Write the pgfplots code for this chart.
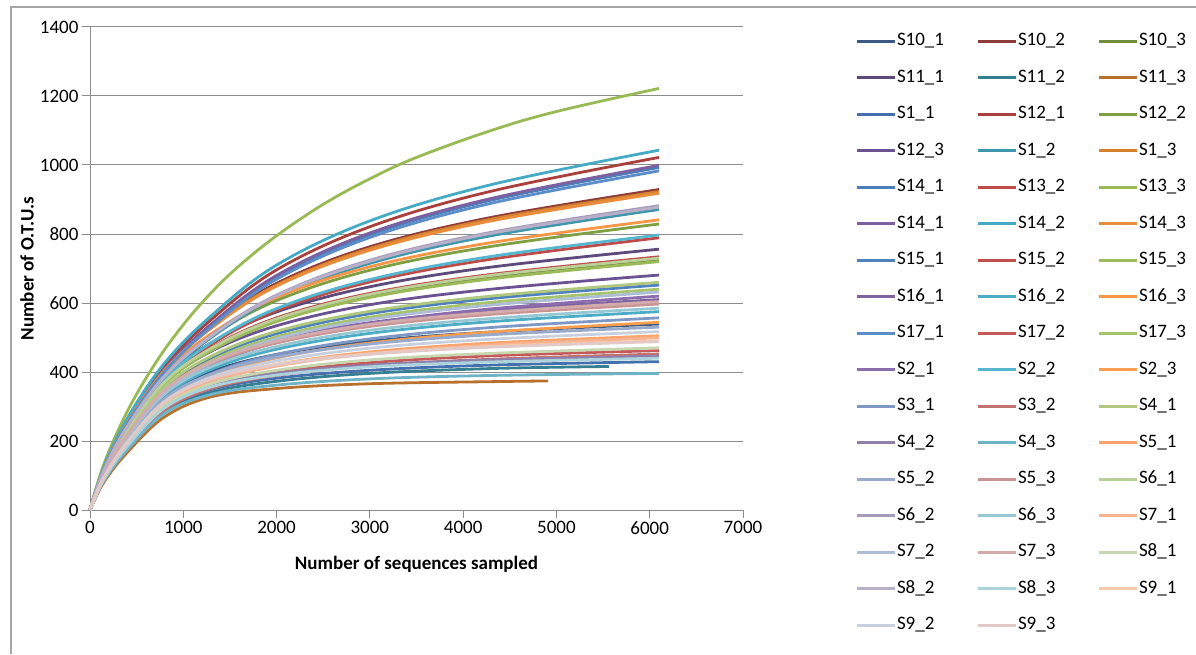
\documentclass[border=0pt]{standalone}
\usepackage{fontspec}
\setmainfont{Carlito}
\usepackage{pgfplots}
\pgfplotsset{compat=1.18}
\definecolor{c1}{HTML}{3C5A83}\definecolor{c2}{HTML}{8E3B3A}\definecolor{c3}{HTML}{728C3E}
\definecolor{c4}{HTML}{5D4A7A}\definecolor{c5}{HTML}{357F91}\definecolor{c6}{HTML}{B8702F}
\definecolor{c7}{HTML}{4570AE}\definecolor{c8}{HTML}{A9403D}\definecolor{c9}{HTML}{7EA042}
\definecolor{c10}{HTML}{6B5293}\definecolor{c11}{HTML}{3E97AC}\definecolor{c12}{HTML}{D4822E}
\definecolor{c13}{HTML}{4A7EBB}\definecolor{c14}{HTML}{BE4B48}\definecolor{c15}{HTML}{98B954}
\definecolor{c16}{HTML}{7D60A0}\definecolor{c17}{HTML}{46AAC5}\definecolor{c18}{HTML}{E98C3C}
\definecolor{c19}{HTML}{4F81BD}\definecolor{c20}{HTML}{C0504D}\definecolor{c21}{HTML}{9BBB59}
\definecolor{c22}{HTML}{8064A2}\definecolor{c23}{HTML}{4BACC6}\definecolor{c24}{HTML}{F79646}
\definecolor{c25}{HTML}{5B8DC9}\definecolor{c26}{HTML}{C4595A}\definecolor{c27}{HTML}{A6C46A}
\definecolor{c28}{HTML}{8B6DAE}\definecolor{c29}{HTML}{56B6CF}\definecolor{c30}{HTML}{F99D4E}
\definecolor{c31}{HTML}{7E98C6}\definecolor{c32}{HTML}{C27370}\definecolor{c33}{HTML}{AFC77F}
\definecolor{c34}{HTML}{8E80A8}\definecolor{c35}{HTML}{6FB3C7}\definecolor{c36}{HTML}{F9A46D}
\definecolor{c37}{HTML}{98A9CB}\definecolor{c38}{HTML}{C99494}\definecolor{c39}{HTML}{BBCF98}
\definecolor{c40}{HTML}{A79BBA}\definecolor{c41}{HTML}{98C7D4}\definecolor{c42}{HTML}{F8B490}
\definecolor{c43}{HTML}{AEBCD6}\definecolor{c44}{HTML}{D3ABAB}\definecolor{c45}{HTML}{C6D6AE}
\definecolor{c46}{HTML}{B8AFC8}\definecolor{c47}{HTML}{ACD2DC}\definecolor{c48}{HTML}{F9C8AA}
\definecolor{c49}{HTML}{C8D0E0}\definecolor{c50}{HTML}{E2C9C8}
\newcommand{\LE}[1]{\addlegendentry{\makebox[78pt][l]{#1}}}
\pgfplotsset{rc/.style={#1, line width=2.8pt, smooth, tension=0.6, line join=round}}
\begin{document}
\begin{tikzpicture}
\path[use as bounding box] (0pt,0pt) rectangle (1196pt,654pt);
\draw[color=black!35, line width=1.5pt] (11pt,0pt) -- (11pt,647pt) -- (1196pt,647pt);
\begin{axis}[
  at={(90pt,144pt)}, anchor=south west,
  scale only axis, width=653pt, height=483pt,
  xmin=0, xmax=7000, ymin=0, ymax=1400,
  xtick={0,1000,...,7000}, ytick={0,200,...,1400},
  scaled ticks=false,
  axis x line*=bottom, axis y line*=left,
  axis line style={color=black!45, line width=1pt},
  tick style={color=black!45, line width=1pt},
  tick align=outside, major tick length=8pt,
  ymajorgrids, major grid style={color=black!45, line width=1pt},
  /pgf/number format/assume math mode=true,
  /pgf/number format/1000 sep={},
  tick label style={font=\fontsize{19}{22}\selectfont, black},
  xlabel={Number of sequences sampled}, ylabel={Number of O.T.U.s},
  label style={font=\fontsize{19}{22}\selectfont\bfseries},
  xlabel style={at={(axis description cs:0.5,-0.123)}, anchor=base},
  ylabel style={at={(axis description cs:-0.0965,0.5)}, anchor=center},
  legend style={at={(axis description cs:1.17152,0.98861)}, anchor=north west, draw=none, fill=none,
    inner sep=0pt, outer sep=0pt, column sep=0pt, row sep=19.5pt,
    font=\fontsize{19}{22}\selectfont,
    nodes={inner xsep=1pt, inner ysep=0pt, text height=13pt, text depth=4pt}},
  legend columns=3, legend cell align=left,
  legend image code/.code={\draw[#1, line width=3pt] (0pt,0pt) -- (38pt,0pt);},
  clip=false,
]
\addplot[rc=c1] coordinates {(0,0)(150,99)(400,205)(800,327)(1300,401)(2000,451)(3000,489)(4300,516)(6100,539)};\LE{S10\_1}
\addplot[rc=c2] coordinates {(0,0)(150,122)(400,256)(800,410)(1300,533)(2000,657)(3000,763)(4300,848)(6100,929)};\LE{S10\_2}
\addplot[rc=c3] coordinates {(0,0)(150,111)(400,231)(800,369)(1300,467)(2000,552)(3000,622)(4300,677)(6100,727)};\LE{S10\_3}
\addplot[rc=c4] coordinates {(0,0)(150,115)(400,240)(800,384)(1300,485)(2000,574)(3000,647)(4300,704)(6100,756)};\LE{S11\_1}
\addplot[rc=c5] coordinates {(0,0)(150,86)(400,177)(800,283)(1300,341)(2000,373)(3000,396)(4300,410)(5563,416)};\LE{S11\_2}
\addplot[rc=c6] coordinates {(0,0)(150,81)(400,167)(800,270)(1300,328)(2000,352)(3000,366)(4300,372)(4910,374)};\LE{S11\_3}
\addplot[rc=c7] coordinates {(0,0)(150,88)(400,181)(800,290)(1300,349)(2000,382)(3000,405)(4300,420)(6100,430)};\LE{S1\_1}
\addplot[rc=c8] coordinates {(0,0)(150,123)(400,260)(800,417)(1300,552)(2000,696)(3000,821)(4300,924)(6100,1022)};\LE{S12\_1}
\addplot[rc=c9] coordinates {(0,0)(150,117)(400,246)(800,393)(1300,504)(2000,607)(3000,695)(4300,764)(6100,829)};\LE{S12\_2}
\addplot[rc=c10] coordinates {(0,0)(150,111)(400,230)(800,368)(1300,460)(2000,534)(3000,595)(4300,640)(6100,681)};\LE{S12\_3}
\addplot[rc=c11] coordinates {(0,0)(150,114)(400,240)(800,384)(1300,500)(2000,616)(3000,715)(4300,795)(6100,871)};\LE{S1\_2}
\addplot[rc=c12] coordinates {(0,0)(150,121)(400,254)(800,407)(1300,530)(2000,652)(3000,758)(4300,843)(6100,923)};\LE{S1\_3}
\addplot[rc=c13] coordinates {(0,0)(150,120)(400,253)(800,405)(1300,536)(2000,676)(3000,798)(4300,898)(6100,993)};\LE{S14\_1}
\addplot[rc=c14] coordinates {(0,0)(150,112)(400,234)(800,374)(1300,480)(2000,578)(3000,661)(4300,727)(6100,789)};\LE{S13\_2}
\addplot[rc=c15] coordinates {(0,0)(150,134)(400,286)(700,425)(1000,537)(1300,630)(1600,708)(2000,795)(2500,886)(3000,960)(3500,1022)(4300,1100)(5000,1155)(6100,1222)};\LE{S13\_3}
\addplot[rc=c16] coordinates {(0,0)(150,120)(400,255)(800,408)(1300,539)(2000,680)(3000,803)(4300,903)(6100,999)};\LE{S14\_1}
\addplot[rc=c17] coordinates {(0,0)(150,126)(400,266)(800,426)(1300,563)(2000,710)(3000,838)(4300,943)(6100,1043)};\LE{S14\_2}
\addplot[rc=c18] coordinates {(0,0)(150,120)(400,253)(800,405)(1300,527)(2000,649)(3000,753)(4300,838)(6100,918)};\LE{S14\_3}
\addplot[rc=c19] coordinates {(0,0)(150,106)(400,220)(800,353)(1300,441)(2000,511)(3000,569)(4300,613)(6100,652)};\LE{S15\_1}
\addplot[rc=c20] coordinates {(0,0)(150,112)(400,233)(800,373)(1300,471)(2000,557)(3000,628)(4300,683)(6100,734)};\LE{S15\_2}
\addplot[rc=c21] coordinates {(0,0)(150,109)(400,228)(800,366)(1300,462)(2000,546)(3000,616)(4300,670)(6100,720)};\LE{S15\_3}
\addplot[rc=c22] coordinates {(0,0)(150,106)(400,219)(800,350)(1300,433)(2000,494)(3000,543)(4300,579)(6100,610)};\LE{S16\_1}
\addplot[rc=c23] coordinates {(0,0)(150,99)(400,206)(800,330)(1300,408)(2000,466)(3000,512)(4300,546)(6100,575)};\LE{S16\_2}
\addplot[rc=c24] coordinates {(0,0)(150,119)(400,249)(800,399)(1300,511)(2000,616)(3000,705)(4300,775)(6100,841)};\LE{S16\_3}
\addplot[rc=c25] coordinates {(0,0)(150,118)(400,250)(800,401)(1300,531)(2000,669)(3000,790)(4300,889)(6100,983)};\LE{S17\_1}
\addplot[rc=c26] coordinates {(0,0)(150,90)(400,185)(800,296)(1300,359)(2000,398)(3000,427)(4300,447)(6100,462)};\LE{S17\_2}
\addplot[rc=c27] coordinates {(0,0)(150,104)(400,216)(800,346)(1300,433)(2000,502)(3000,559)(4300,602)(6100,640)};\LE{S17\_3}
\addplot[rc=c28] coordinates {(0,0)(150,101)(400,210)(800,335)(1300,419)(2000,486)(3000,541)(4300,583)(6100,620)};\LE{S2\_1}
\addplot[rc=c29] coordinates {(0,0)(150,113)(400,236)(800,378)(1300,485)(2000,584)(3000,668)(4300,735)(6100,797)};\LE{S2\_2}
\addplot[rc=c30] coordinates {(0,0)(150,94)(400,195)(800,312)(1300,386)(2000,441)(3000,484)(4300,516)(6100,544)};\LE{S2\_3}
\addplot[rc=c31] coordinates {(0,0)(150,96)(400,200)(800,320)(1300,395)(2000,451)(3000,496)(4300,529)(6100,557)};\LE{S3\_1}
\addplot[rc=c32] coordinates {(0,0)(150,88)(400,181)(800,290)(1300,352)(2000,390)(3000,418)(4300,437)(6100,452)};\LE{S3\_2}
\addplot[rc=c33] coordinates {(0,0)(150,107)(400,223)(800,357)(1300,446)(2000,518)(3000,576)(4300,620)(6100,660)};\LE{S4\_1}
\addplot[rc=c34] coordinates {(0,0)(150,91)(400,188)(800,301)(1300,362)(2000,396)(3000,420)(4300,435)(6100,446)};\LE{S4\_2}
\addplot[rc=c35] coordinates {(0,0)(150,85)(400,175)(800,280)(1300,335)(2000,362)(3000,380)(4300,390)(6100,396)};\LE{S4\_3}
\addplot[rc=c36] coordinates {(0,0)(150,93)(400,192)(800,307)(1300,376)(2000,422)(3000,458)(4300,484)(6100,505)};\LE{S5\_1}
\addplot[rc=c37] coordinates {(0,0)(150,97)(400,201)(800,322)(1300,394)(2000,443)(3000,481)(4300,508)(6100,530)};\LE{S5\_2}
\addplot[rc=c38] coordinates {(0,0)(150,103)(400,214)(800,343)(1300,424)(2000,484)(3000,532)(4300,567)(6100,597)};\LE{S5\_3}
\addplot[rc=c39] coordinates {(0,0)(150,111)(400,232)(800,371)(1300,469)(2000,554)(3000,625)(4300,680)(6100,730)};\LE{S6\_1}
\addplot[rc=c40] coordinates {(0,0)(150,116)(400,243)(800,389)(1300,506)(2000,623)(3000,724)(4300,805)(6100,882)};\LE{S6\_2}
\addplot[rc=c41] coordinates {(0,0)(150,101)(400,210)(800,336)(1300,415)(2000,474)(3000,521)(4300,555)(6100,585)};\LE{S6\_3}
\addplot[rc=c42] coordinates {(0,0)(150,92)(400,189)(800,303)(1300,371)(2000,417)(3000,453)(4300,478)(6100,499)};\LE{S7\_1}
\addplot[rc=c43] coordinates {(0,0)(150,103)(400,214)(800,342)(1300,427)(2000,496)(3000,552)(4300,594)(6100,632)};\LE{S7\_2}
\addplot[rc=c44] coordinates {(0,0)(150,104)(400,217)(800,347)(1300,429)(2000,489)(3000,538)(4300,573)(6100,604)};\LE{S7\_3}
\addplot[rc=c45] coordinates {(0,0)(150,91)(400,188)(800,301)(1300,366)(2000,405)(3000,435)(4300,454)(6100,470)};\LE{S8\_1}
\addplot[rc=c46] coordinates {(0,0)(150,115)(400,242)(800,388)(1300,504)(2000,621)(3000,721)(4300,802)(6100,878)};\LE{S8\_2}
\addplot[rc=c47] coordinates {(0,0)(150,90)(400,185)(800,296)(1300,357)(2000,391)(3000,415)(4300,429)(6100,440)};\LE{S8\_3}
\addplot[rc=c48] coordinates {(0,0)(150,95)(400,196)(800,314)(1300,381)(2000,422)(3000,453)(4300,474)(6100,490)};\LE{S9\_1}
\addplot[rc=c49] coordinates {(0,0)(150,95)(400,196)(800,314)(1300,385)(2000,432)(3000,469)(4300,495)(6100,517)};\LE{S9\_2}
\addplot[rc=c50] coordinates {(0,0)(150,95)(400,195)(800,313)(1300,380)(2000,421)(3000,451)(4300,472)(6100,488)};\LE{S9\_3}
\end{axis}
\end{tikzpicture}
\end{document}
